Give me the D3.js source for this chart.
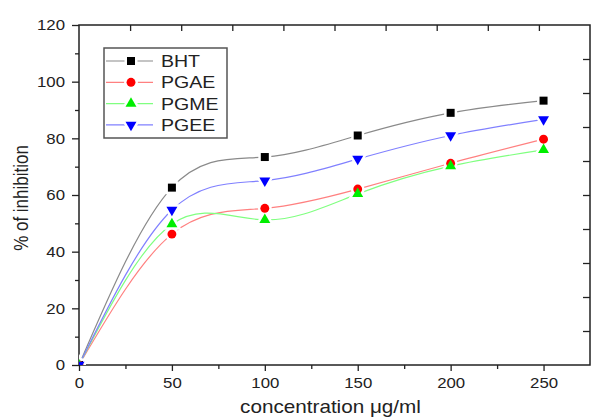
<!DOCTYPE html>
<html>
<head>
<meta charset="utf-8">
<script src="https://cdn.jsdelivr.net/npm/d3@7"></script>
<style>
  body { margin: 0; background: #fff; }
  svg { display: block; }
</style>
</head>
<body>
<div id="chart"></div>
<script>
// values
const concentrations = [0, 50, 100, 150, 200, 250];
const seriesNames = ["BHT", "PGAE", "PGME", "PGEE"];
const bhtValues  = [0, 62.6, 73.4, 81.0, 89.0, 93.3];
const pgaeValues = [0, 46.2, 55.3, 62.1, 71.2, 79.7];
const pgmeValues = [0, 49.7, 51.2, 60.4, 70.2, 75.9];
const pgeeValues = [0, 54.7, 65.1, 72.7, 81.0, 86.7];

const xTicks = [0, 50, 100, 150, 200, 250];
const xMinorTicks = [25, 75, 125, 175, 225];
const yTicks = [0, 20, 40, 60, 80, 100, 120];
const yMinorTicks = [10, 30, 50, 70, 90, 110];
const oppositeTicks = [1, 2, 3, 4, 5, 6, 7, 8, 9];

const MARGIN = { TOP: 25, BOTTOM: 54, LEFT: 79, RIGHT: 2 };
const WIDTH = 592 - MARGIN.LEFT - MARGIN.RIGHT;
const HEIGHT = 419 - MARGIN.TOP - MARGIN.BOTTOM;
const FONT = "'Liberation Sans', Arial, sans-serif";
const INK = "#222";

const series = [
  { name: seriesNames[0], values: bhtValues,  line: "#8a8a8a", fill: "#000000", symbol: d3.symbolSquare,   size: 64, rot: 0 },
  { name: seriesNames[1], values: pgaeValues, line: "#ff8080", fill: "#ff0000", symbol: d3.symbolCircle,   size: 62, rot: 0 },
  { name: seriesNames[2], values: pgmeValues, line: "#80ff80", fill: "#00ee00", symbol: d3.symbolTriangle, size: 52, rot: 0 },
  { name: seriesNames[3], values: pgeeValues, line: "#8080ff", fill: "#0000ff", symbol: d3.symbolTriangle, size: 52, rot: 180 }
];

const svg = d3.select("#chart")
  .append("svg")
  .attr("width", 592)
  .attr("height", 419)
  .style("background", "#fff");

const g = svg.append("g")
  .attr("transform", `translate(${MARGIN.LEFT}, ${MARGIN.TOP})`);

const x = d3.scaleLinear().domain([0, 275]).range([0, WIDTH]);
const y = d3.scaleLinear().domain([0, 120]).range([HEIGHT, 0]);
// the opposite axes carry their own plain tick spacing
const topScale = d3.scaleLinear().domain([0, 10]).range([0, WIDTH]);
const rightScale = d3.scaleLinear().domain([0, 10]).range([HEIGHT, 0]);

g.append("clipPath").attr("id", "plot-clip")
  .append("rect").attr("width", WIDTH).attr("height", HEIGHT);

function styleAxis(sel) {
  sel.select(".domain").remove();
  sel.selectAll("line").attr("stroke", INK).attr("stroke-width", 1.3);
  sel.selectAll("text").attr("fill", INK).style("font-family", FONT).style("font-size", "15px");
}

// bottom axis
g.append("g")
  .attr("transform", `translate(0, ${HEIGHT})`)
  .call(d3.axisBottom(x).tickValues(xTicks).tickSize(6).tickFormat(d3.format("d")))
  .call(styleAxis)
  .call(s => s.selectAll("text").attr("y", 12.4).attr("transform", "scale(1.12,1)"));
g.append("g")
  .attr("transform", `translate(0, ${HEIGHT})`)
  .call(d3.axisBottom(x).tickValues(xMinorTicks).tickSize(4).tickFormat(""))
  .call(styleAxis);

// left axis
g.append("g")
  .call(d3.axisLeft(y).tickValues(yTicks).tickSize(7).tickFormat(d3.format("d")))
  .call(styleAxis)
  .call(s => s.selectAll("text").attr("x", -12.5).attr("transform", "scale(1.12,1)"));
g.append("g")
  .call(d3.axisLeft(y).tickValues(yMinorTicks).tickSize(4).tickFormat(""))
  .call(styleAxis);

// top and right ticks, pointing inward
g.append("g")
  .call(d3.axisBottom(topScale).tickValues(oppositeTicks).tickSize(6).tickFormat(""))
  .call(styleAxis);
g.append("g")
  .attr("transform", `translate(${WIDTH}, 0)`)
  .call(d3.axisLeft(rightScale).tickValues(oppositeTicks).tickSize(7).tickFormat(""))
  .call(styleAxis);

// frame
g.append("rect")
  .attr("width", WIDTH)
  .attr("height", HEIGHT)
  .attr("fill", "none")
  .attr("stroke", INK)
  .attr("stroke-width", 1.5);

// axis titles
g.append("text")
  .attr("transform", `translate(${WIDTH / 2 - 4}, ${HEIGHT + 48}) scale(1.15,1)`)
  .attr("text-anchor", "middle")
  .style("font-family", FONT)
  .style("font-size", "18px")
  .attr("fill", INK)
  .text("concentration μg/ml");

g.append("text")
  .attr("transform", `translate(${28 - MARGIN.LEFT}, ${HEIGHT / 2 + 3}) scale(1.15,1) rotate(-90)`)
  .attr("text-anchor", "middle")
  .style("font-family", FONT)
  .style("font-size", "17px")
  .attr("fill", INK)
  .text("% of inhibition");

// curves and markers
const plot = g.append("g").attr("clip-path", "url(#plot-clip)");

const line = d3.line()
  .x((d, i) => x(concentrations[i]))
  .y(d => y(d))
  .curve(d3.curveNatural);

plot.selectAll(".curve")
  .data(series)
  .enter()
  .append("path")
  .attr("class", "curve")
  .attr("d", d => line(d.values))
  .attr("fill", "none")
  .attr("stroke", d => d.line)
  .attr("stroke-width", 1.2);

const sym = d => d3.symbol().type(d.symbol).size(d.size)();

// white halos first so the lines break around the markers
series.forEach(s => {
  plot.selectAll(null)
    .data(s.values)
    .enter()
    .append("path")
    .attr("transform", (d, i) => `translate(${x(concentrations[i])}, ${y(d)}) rotate(${s.rot})`)
    .attr("d", sym(s))
    .attr("fill", "#fff")
    .attr("stroke", "#fff")
    .attr("stroke-width", 5);
});
series.forEach(s => {
  plot.selectAll(null)
    .data(s.values)
    .enter()
    .append("path")
    .attr("transform", (d, i) => `translate(${x(concentrations[i])}, ${y(d)}) rotate(${s.rot})`)
    .attr("d", sym(s))
    .attr("fill", s.fill);
});

// legend
const legend = svg.append("g").attr("transform", "translate(104, 48)");
legend.append("rect")
  .attr("width", 123)
  .attr("height", 90)
  .attr("fill", "#fff")
  .attr("stroke", "#555")
  .attr("stroke-width", 1.5);

const rows = legend.selectAll(".row")
  .data(series)
  .enter()
  .append("g")
  .attr("transform", (d, i) => `translate(0, ${13 + i * 21.3})`);

rows.append("line")
  .attr("x1", 2).attr("x2", 49)
  .attr("stroke", d => d.line)
  .attr("stroke-width", 1.2);
rows.append("path")
  .attr("transform", d => `translate(27, 0) rotate(${d.rot})`)
  .attr("d", d => sym(d))
  .attr("fill", "#fff")
  .attr("stroke", "#fff")
  .attr("stroke-width", 5);
rows.append("path")
  .attr("transform", d => `translate(27, 0) rotate(${d.rot})`)
  .attr("d", d => sym(d))
  .attr("fill", d => d.fill);
rows.append("text")
  .attr("transform", "translate(57, 6) scale(1.15,1)")
  .style("font-family", FONT)
  .style("font-size", "17px")
  .attr("fill", INK)
  .text(d => d.name);
</script>
</body>
</html>
